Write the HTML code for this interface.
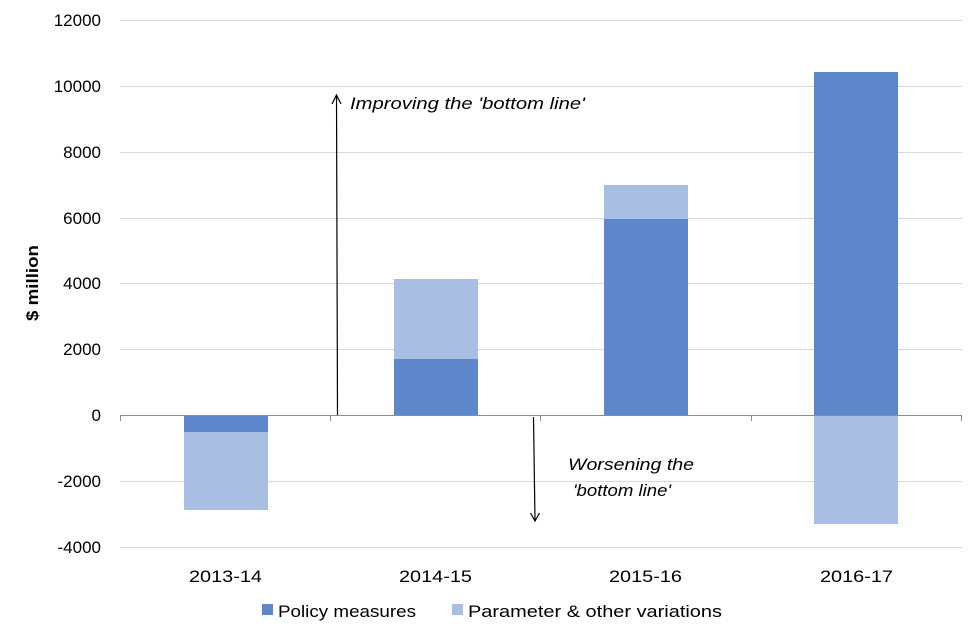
<!DOCTYPE html>
<html><head><style>
body{margin:0;background:#fff;}
svg text{font-family:"Liberation Sans",sans-serif;}
</style></head><body>
<svg width="976" height="637" xmlns="http://www.w3.org/2000/svg">
<g stroke="#d9d9d9" stroke-width="1">
<line x1="120" x2="962" y1="20.5" y2="20.5"/>
<line x1="120" x2="962" y1="86.5" y2="86.5"/>
<line x1="120" x2="962" y1="152.5" y2="152.5"/>
<line x1="120" x2="962" y1="218.5" y2="218.5"/>
<line x1="120" x2="962" y1="283.5" y2="283.5"/>
<line x1="120" x2="962" y1="349.5" y2="349.5"/>
<line x1="120" x2="962" y1="481.5" y2="481.5"/>
<line x1="120" x2="962" y1="547.5" y2="547.5"/>
</g>
<g>
<rect x="184" y="415" width="84" height="17" fill="#5e86cb"/>
<rect x="184" y="432" width="84" height="78" fill="#a9bee3"/>
<rect x="394" y="359" width="84" height="56" fill="#5e86cb"/>
<rect x="394" y="279" width="84" height="80" fill="#a9bee3"/>
<rect x="604" y="219" width="84" height="196" fill="#5e86cb"/>
<rect x="604" y="185" width="84" height="34" fill="#a9bee3"/>
<rect x="814" y="72" width="84" height="343" fill="#5e86cb"/>
<rect x="814" y="415" width="84" height="109" fill="#a9bee3"/>
</g>
<g stroke="#8c8c8c" stroke-width="1">
<line x1="120" x2="962" y1="415.5" y2="415.5"/>
<line x1="120.5" x2="120.5" y1="415" y2="421"/>
<line x1="330.5" x2="330.5" y1="415" y2="421"/>
<line x1="540.5" x2="540.5" y1="415" y2="421"/>
<line x1="751.5" x2="751.5" y1="415" y2="421"/>
<line x1="961.5" x2="961.5" y1="415" y2="421"/>
</g>
<g stroke="#000" stroke-width="1.2" fill="none">
<line x1="337.5" y1="415" x2="336.5" y2="95"/>
<polyline points="332,104 336.5,95 341,104"/>
<line x1="533.5" y1="417" x2="535" y2="521"/>
<polyline points="530.5,513 535,521 539.5,513"/>
</g>
<g font-size="17" fill="#000" text-anchor="end">
<text x="101" y="26">12000</text>
<text x="101" y="92">10000</text>
<text x="101" y="158">8000</text>
<text x="101" y="224">6000</text>
<text x="101" y="289">4000</text>
<text x="101" y="355">2000</text>
<text x="101" y="421">0</text>
<text x="101" y="487">-2000</text>
<text x="101" y="553">-4000</text>
</g>
<g font-size="17" fill="#000">
<text x="189" y="582" textLength="73" lengthAdjust="spacingAndGlyphs">2013-14</text>
<text x="399" y="582" textLength="73" lengthAdjust="spacingAndGlyphs">2014-15</text>
<text x="609" y="582" textLength="73" lengthAdjust="spacingAndGlyphs">2015-16</text>
<text x="820" y="582" textLength="73" lengthAdjust="spacingAndGlyphs">2016-17</text>
</g>
<text transform="translate(38,321) rotate(-90)" font-size="17" font-weight="bold" textLength="76" lengthAdjust="spacingAndGlyphs">$ million</text>
<g font-size="17" font-style="italic">
<text x="350" y="109" textLength="235" lengthAdjust="spacingAndGlyphs">Improving the 'bottom line'</text>
<text x="568" y="470" textLength="126" lengthAdjust="spacingAndGlyphs">Worsening the</text>
<text x="573" y="496" textLength="98" lengthAdjust="spacingAndGlyphs">'bottom line'</text>
</g>
<rect x="262" y="604" width="11" height="11" fill="#5e86cb"/>
<text x="278" y="617" font-size="17" textLength="138" lengthAdjust="spacingAndGlyphs">Policy measures</text>
<rect x="452" y="604" width="11" height="11" fill="#a9bee3"/>
<text x="468" y="617" font-size="17" textLength="254" lengthAdjust="spacingAndGlyphs">Parameter &amp; other variations</text>
</svg>
</body></html>
